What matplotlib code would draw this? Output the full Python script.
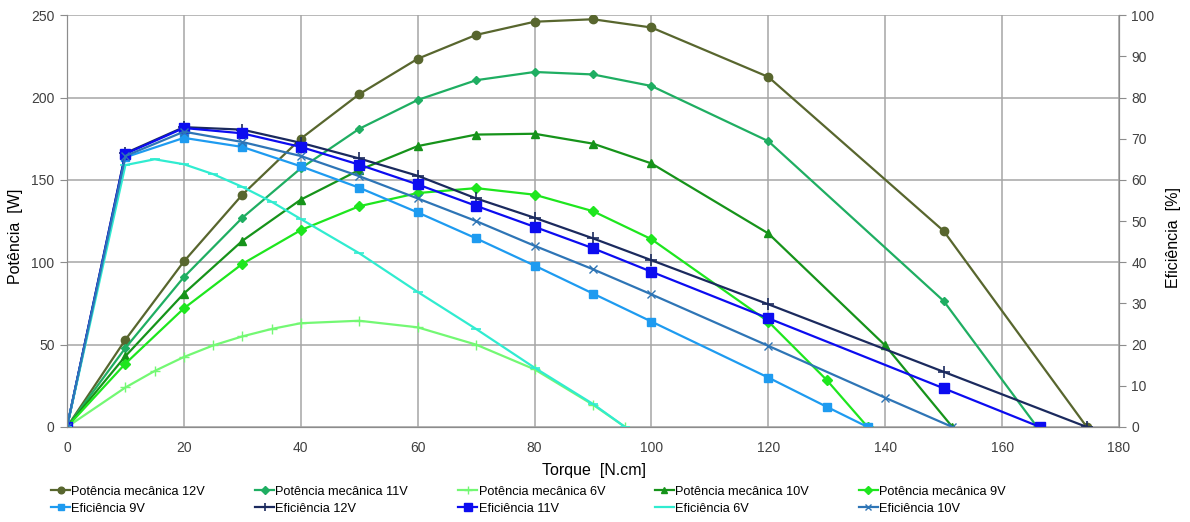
import matplotlib.pyplot as plt

# --- mechanical power [W] vs torque [N.cm] ---
p12_x = [0, 10, 20, 30, 40, 50, 60, 70, 80, 90, 100, 120, 150, 174.5]
p12_y = [0, 53, 100.5, 141, 175, 202, 223.5, 238, 246, 247.5, 242.5, 212.5, 119, 0]
p11_x = [0, 10, 20, 30, 40, 50, 60, 70, 80, 90, 100, 120, 150, 166]
p11_y = [0, 48, 91, 127, 157, 181, 198.5, 210.5, 215.5, 214, 207, 173.5, 76.5, 0]
p10_x = [0, 10, 20, 30, 40, 50, 60, 70, 80, 90, 100, 120, 140, 151.5]
p10_y = [0, 43, 81, 113, 138, 156, 170.5, 177.5, 178, 172, 160, 117.5, 49.5, 0]
p9_x = [0, 10, 20, 30, 40, 50, 60, 70, 80, 90, 100, 120, 130, 137]
p9_y = [0, 38.5, 72, 99, 119.5, 134, 142, 145, 141, 131, 114, 64, 28.5, 0]
p6_x = [0, 10, 15, 20, 25, 30, 35, 40, 50, 60, 70, 80, 90, 95.5]
p6_y = [0, 24, 34, 42.5, 49.5, 55, 59.5, 63, 64.5, 60.5, 50, 35, 13.5, 0]

# --- efficiency [%] ---
e12_x = [0, 10, 20, 30, 40, 50, 60, 70, 80, 90, 100, 120, 150, 174.5]
e12_y = [0, 66.5, 72.8, 72.2, 69, 65.2, 61, 55.5, 50.8, 45.8, 40.5, 29.8, 13.4, 0]
e11_x = [0, 10, 20, 30, 40, 50, 60, 70, 80, 90, 100, 120, 150, 166.5]
e11_y = [0, 66.3, 72.6, 71.3, 68, 63.7, 58.9, 53.7, 48.6, 43.4, 37.7, 26.4, 9.4, 0]
e10_x = [0, 10, 20, 30, 40, 50, 60, 70, 80, 90, 100, 120, 140, 151.5]
e10_y = [0, 65.8, 71.7, 69.2, 65.8, 60.9, 55.5, 50, 44, 38.3, 32.2, 19.7, 7.1, 0]
e9_x = [0, 10, 20, 30, 40, 50, 60, 70, 80, 90, 100, 120, 130, 137]
e9_y = [0, 65.5, 70.2, 68, 63.3, 58.1, 52.1, 45.8, 39.2, 32.4, 25.6, 12, 4.9, 0]
e6_x = [0, 10, 15, 20, 25, 30, 35, 40, 50, 60, 70, 80, 90, 95.5]
e6_y = [0, 63.6, 65, 63.8, 61.4, 58.3, 54.7, 50.5, 42.2, 32.8, 23.8, 14.4, 5.6, 0]

plt.rcParams['font.family'] = ['Liberation Sans', 'DejaVu Sans']

fig = plt.figure(figsize=(11.9, 5.22), dpi=100)
ax = fig.add_axes([0.0563, 0.182, 0.884, 0.789])
ax2 = ax.twinx()

lw = 1.6
h_p12, = ax.plot(p12_x, p12_y, color='#58662e', lw=lw, marker='o', ms=6, label='Potência mecânica 12V')
h_p11, = ax.plot(p11_x, p11_y, color='#1fae62', lw=lw, marker='D', ms=4.5, label='Potência mecânica 11V')
h_p6, = ax.plot(p6_x, p6_y, color='#73f873', lw=lw, marker='+', ms=7, mew=1, label='Potência mecânica 6V')
h_p10, = ax.plot(p10_x, p10_y, color='#16931a', lw=lw, marker='^', ms=6, label='Potência mecânica 10V')
h_p9, = ax.plot(p9_x, p9_y, color='#1ee61e', lw=lw, marker='D', ms=5, label='Potência mecânica 9V')

h_e9, = ax2.plot(e9_x, e9_y, color='#1e9bf0', lw=lw, marker='s', ms=6, label='Eficiência 9V')
h_e12, = ax2.plot(e12_x, e12_y, color='#1b2a5e', lw=lw, marker='+', ms=8, mew=1.2, label='Eficiência 12V')
h_e11, = ax2.plot(e11_x, e11_y, color='#0c0cf0', lw=lw, marker='s', ms=6.5, label='Eficiência 11V')
h_e6, = ax2.plot(e6_x, e6_y, color='#30ecd0', lw=lw, marker='_', ms=7, mew=1.2, label='Eficiência 6V')
h_e10, = ax2.plot(e10_x, e10_y, color='#2e75b6', lw=lw, marker='x', ms=6, mew=1, label='Eficiência 10V')

ax.set_xlim(0, 180)
ax.set_ylim(0, 250)
ax2.set_ylim(0, 100)
ax.set_xticks(range(0, 181, 20))
ax.set_yticks(range(0, 251, 50))
ax2.set_yticks(range(0, 101, 10))

ax.grid(True, color='#a6a6a6', lw=1.1)
ax.set_axisbelow(True)
for a in (ax, ax2):
    for s in a.spines.values():
        s.set_color('#8c8c8c')
ax.spines['top'].set_visible(False)
ax2.spines['top'].set_visible(False)

tick_col = '#404040'
ax.tick_params(axis='x', length=0, pad=10, labelsize=10, labelcolor=tick_col)
ax.tick_params(axis='y', length=5, color='#8c8c8c', pad=4, labelsize=10, labelcolor=tick_col)
ax2.tick_params(axis='y', length=5, color='#8c8c8c', pad=4, labelsize=10, labelcolor=tick_col)

ax.set_xlabel('Torque  [N.cm]', fontsize=11.5)
ax.xaxis.set_label_coords(0.501, -0.087)
ax.set_ylabel('Potência  [W]', fontsize=11.5)
ax.yaxis.set_label_coords(-0.042, 0.464)
ax2.set_ylabel('Eficiência  [%]', fontsize=11.5, rotation=90)
ax2.yaxis.set_label_coords(1.045, 0.46)

# legend is row-wise in the reference, matplotlib fills by column
handles = [h_p12, h_e9, h_p11, h_e12, h_p6, h_e11, h_p10, h_e6, h_p9, h_e10]
fig.legend(handles=handles, labels=[h.get_label() for h in handles],
           ncol=5, loc='upper left', bbox_to_anchor=(0.0375, 0.082),
           frameon=False, fontsize=9.2, handlelength=1.5, handletextpad=0.1,
           columnspacing=3.9, labelspacing=0.4, borderpad=0, markerscale=0.8)

fig.savefig('out.png', dpi=100)
